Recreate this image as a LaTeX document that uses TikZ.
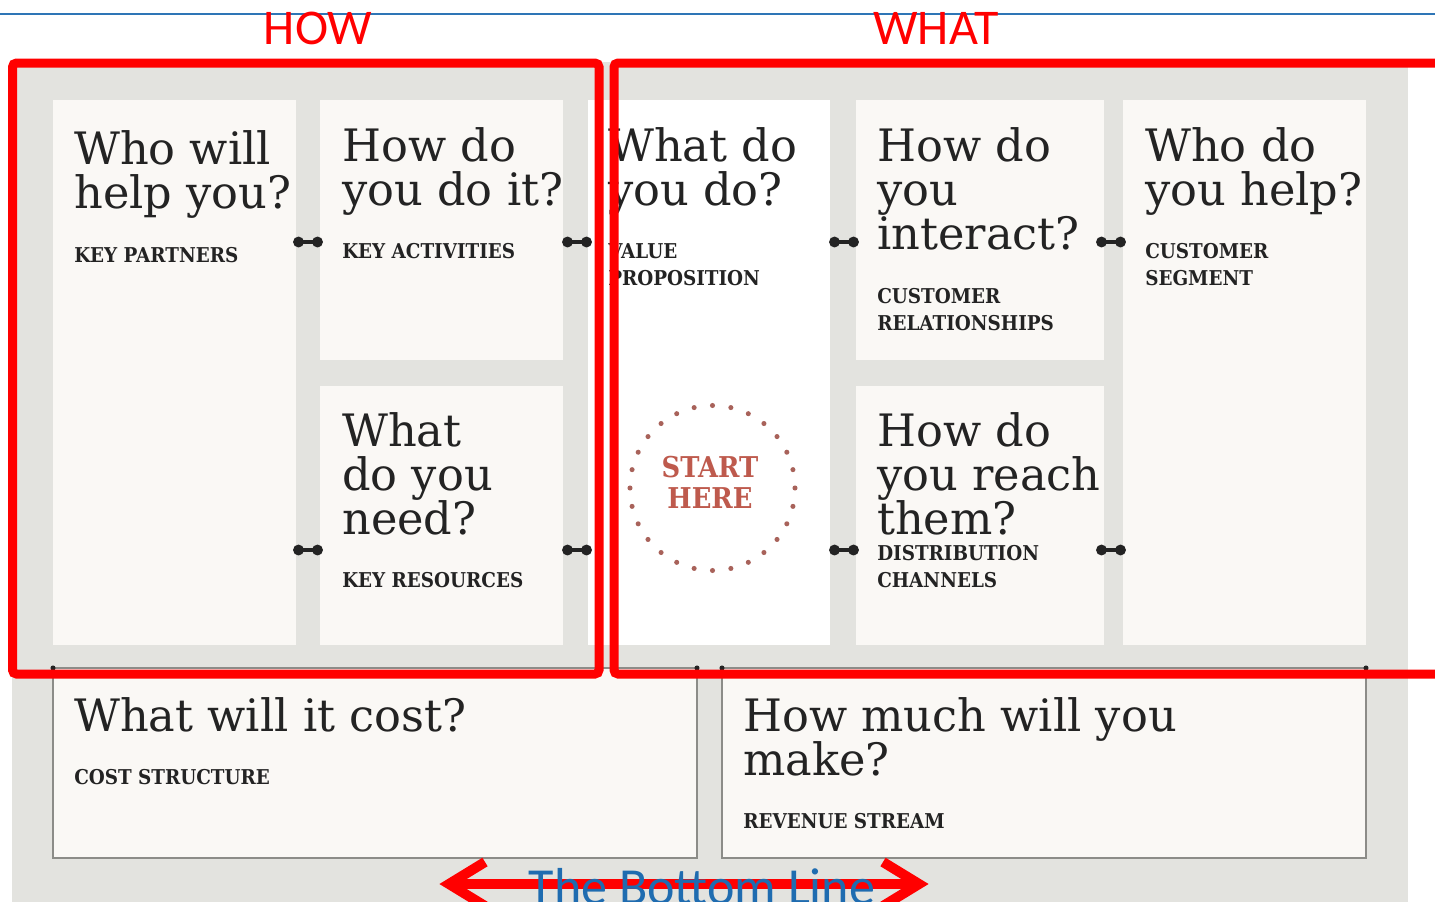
\documentclass[tikz,border=0pt]{standalone}
\usepackage{fontspec}
\setmainfont{DejaVu Serif}
\newfontfamily\slabfont{DejaVu Serif}
\newfontfamily\slabcond[FakeStretch=0.9]{DejaVu Serif}
\newfontfamily\calfont{Carlito}
\usetikzlibrary{fit}
\definecolor{bgc}{HTML}{E3E3DF}
\definecolor{boxc}{HTML}{FAF8F5}
\definecolor{ink}{HTML}{232323}
\definecolor{bordc}{HTML}{8C8C88}
\definecolor{blueline}{HTML}{2E75B6}
\definecolor{btext}{HTML}{1F6CB0}
\definecolor{startc}{HTML}{BE5A4D}
\definecolor{dotc}{HTML}{A8625A}
\definecolor{hred}{HTML}{FF0000}
\tikzset{
  box/.style={fill=boxc, inner sep=0pt, outer sep=0pt},
  wbox/.style={fill=white, inner sep=0pt, outer sep=0pt},
  bbox/.style={fill=boxc, draw=bordc, line width=1.1pt, inner sep=0pt, outer sep=0pt},
  hd/.style={anchor=base west, inner sep=0pt, text=ink, font=\slabfont\fontsize{33.5}{34}\selectfont},
  lb/.style={anchor=base west, inner sep=0pt, text=ink, font=\slabcond\bfseries\fontsize{15.3}{20}\selectfont},
  frame/.style={draw=hred, line width=6.75pt, rounded corners=3pt},
  bell/.pic={\draw[ink, line width=2.4pt] (-9.5,0) -- (9.5,0);
             \fill[ink] (-9.5,0) circle[radius=4.1pt];
             \fill[ink] (9.5,0) circle[radius=4.1pt];},
}
\begin{document}
\begin{tikzpicture}[x=0.75pt,y=-0.75pt]
\useasboundingbox (0,0) rectangle (1435,901);
\clip (0,0) rectangle (1435,901);
\fill[white] (0,0) rectangle (1435,901);
\draw[blueline, line width=2pt] (0,14) -- (1435,14);
\fill[bgc] (12,62) rectangle (1408,905);

% boxes
\node[box, fit={(53,100) (296,645)}] (kp) {};
\node[box, fit={(320,100) (563,360)}] (ka) {};
\node[box, fit={(320,386) (563,645)}] (kr) {};
\node[wbox, fit={(588,100) (830,645)}] (vp) {};
\node[box, fit={(856,100) (1104,360)}] (cr) {};
\node[box, fit={(856,386) (1104,645)}] (ch) {};
\node[box, fit={(1123,100) (1366,645)}] (cs) {};
\node[bbox, fit={(53,668) (697,858)}] (cost) {};
\node[bbox, fit={(722,668) (1366,858)}] (rev) {};

% corner dots of the bottom boxes
\fill[ink] (cost.north west) circle[radius=1.9pt];
\fill[ink] (cost.north east) circle[radius=1.9pt];
\fill[ink] (rev.north west) circle[radius=1.9pt];
\fill[ink] (rev.north east) circle[radius=1.9pt];

% texts
\node[hd] (kp1) at (74,164) {Who will};
\node[hd] (kp2) at (74,208) {help you?};
\node[lb] (kpl) at (74,262) {KEY PARTNERS};

\node[hd] (ka1) at (342,161) {How do};
\node[hd] (ka2) at (342,205) {you do it?};
\node[lb] (kal) at (342,258) {KEY ACTIVITIES};

\node[hd] (kr1) at (342,446) {What};
\node[hd] (kr2) at (342,490) {do you};
\node[hd] (kr3) at (342,534) {need?};
\node[lb] (krl) at (342,587) {KEY RESOURCES};

\node[hd] (vp1) at (608,161) {What do};
\node[hd] (vp2) at (608,205) {you do?};
\node[lb] (vpl1) at (608,258) {VALUE};
\node[lb] (vpl2) at (608,285) {PROPOSITION};

\node[hd] (cr1) at (877,161) {How do};
\node[hd] (cr2) at (877,205) {you};
\node[hd] (cr3) at (877,249) {interact?};
\node[lb] (crl1) at (877,303) {CUSTOMER};
\node[lb] (crl2) at (877,330) {RELATIONSHIPS};

\node[hd] (ch1) at (877,446) {How do};
\node[hd] (ch2) at (877,490) {you reach};
\node[hd] (ch3) at (877,534) {them?};
\node[lb] (chl1) at (877,560) {DISTRIBUTION};
\node[lb] (chl2) at (877,587) {CHANNELS};

\node[hd] (cs1) at (1145,161) {Who do};
\node[hd] (cs2) at (1145,205) {you help?};
\node[lb] (csl1) at (1145,258) {CUSTOMER};
\node[lb] (csl2) at (1145,285) {SEGMENT};

\node[hd] (co1) at (74,731) {What will it cost?};
\node[lb] (col) at (74,784) {COST STRUCTURE};

\node[hd] (re1) at (743,731) {How much will you};
\node[hd] (re2) at (743,775) {make?};
\node[lb] (rel) at (743,828) {REVENUE STREAM};

% start here
\coordinate (sh) at (712.5,488);
\foreach \i in {0,...,27}
  \fill[dotc] (sh) ++(90+\i*12.857:82.5) circle[radius=1.9pt];
\node[anchor=base, inner sep=0pt, text=startc, font=\slabcond\bfseries\fontsize{21.5}{24}\selectfont] (st1) at (710,477) {START};
\node[anchor=base, inner sep=0pt, text=startc, font=\slabcond\bfseries\fontsize{21.5}{24}\selectfont] (st2) at (710,508) {HERE};

% dumbbell connectors
\pic at (308,242) {bell};
\pic at (577,242) {bell};
\pic at (844,242) {bell};
\pic at (1111,242) {bell};
\pic at (308,550) {bell};
\pic at (577,550) {bell};
\pic at (844,550) {bell};
\pic at (1111,550) {bell};

% red frames
\draw[frame] (12.5,63) rectangle (599,674);
\draw[frame] (614,63) rectangle (1460,674);
\node[anchor=base, inner sep=0pt, text=hred, font=\calfont\fontsize{37.5}{40}\selectfont] (how) at (318,44) {HOW};
\node[anchor=base, inner sep=0pt, text=hred, font=\calfont\fontsize{37.5}{40}\selectfont] (what) at (936,44) {WHAT};

% bottom line arrow
\coordinate (al) at (449,884);
\coordinate (ar) at (919,884);
\draw[hred, line width=7pt] (al) -- (ar);
\draw[hred, line width=7.5pt, line join=miter] (al) ++(36,-22) -- (al) -- ++(36,22);
\draw[hred, line width=7.5pt, line join=miter] (ar) ++(-36,-22) -- (ar) -- ++(-36,22);
\node[anchor=base, inner sep=0pt, text=btext, font=\calfont\fontsize{39}{40}\selectfont] (bl) at (702,904) {The Bottom Line};
\end{tikzpicture}
\end{document}
